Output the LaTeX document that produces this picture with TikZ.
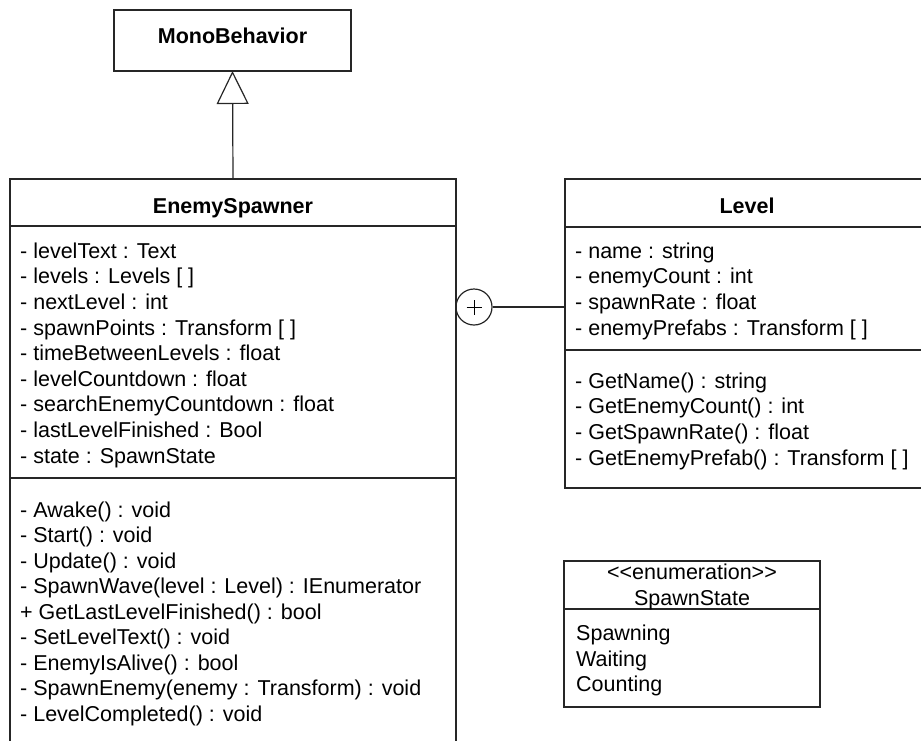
\documentclass[tikz,border=0pt]{standalone}
\usepackage{fontspec}
\setmainfont{Liberation Sans}
\usetikzlibrary{arrows.meta}

\tikzset{
  umlline/.style={line width=1.2pt, draw=black!85},
  classbox/.style={umlline, anchor=north west, inner sep=0pt, outer sep=0pt},
  member/.style={anchor=base west, inner sep=0pt, font=\fontsize{21.5}{25.6}\selectfont},
  classname/.style={anchor=base, inner sep=0pt, font=\fontsize{21.5}{25.6}\selectfont\bfseries},
  stereo/.style={anchor=base, inner sep=0pt, font=\fontsize{21.5}{25.6}\selectfont},
}

\begin{document}
\begin{tikzpicture}[x=1pt,y=-1pt]
\useasboundingbox (0,0) rectangle (921,740);
\clip (0,0) rectangle (921,740);

% MonoBehavior
\node[classbox, minimum width=237pt, minimum height=61pt] (mono) at (114,10) {};
\node[classname] (mononame) at (232.5,43) {MonoBehavior};

% EnemySpawner
\node[classbox, minimum width=446pt, minimum height=47pt] (spawner) at (10,179) {};
\node[classbox, minimum width=446pt, minimum height=252pt] (spawnerattr) at (10,226) {};
\node[classbox, minimum width=446pt, minimum height=300pt] (spawnerops) at (10,478) {};
\node[classname] (spawnername) at (233,213) {EnemySpawner};
\foreach \txt [count=\i from 0] in {{- levelText : Text}, {- levels : Levels [ ]}, {- nextLevel : int},
    {- spawnPoints : Transform [ ]}, {- timeBetweenLevels : float}, {- levelCountdown : float},
    {- searchEnemyCountdown : float}, {- lastLevelFinished : Bool}, {- state : SpawnState}}
  \node[member] (sa\i) at (20,258.3+25.6*\i) {\txt};
\foreach \txt [count=\i from 0] in {{- Awake() : void}, {- Start() : void}, {- Update() : void},
    {- SpawnWave(level : Level) : IEnumerator}, {+ GetLastLevelFinished() : bool},
    {- SetLevelText() : void}, {- EnemyIsAlive() : bool},
    {- SpawnEnemy(enemy : Transform) : void}, {- LevelCompleted() : void}}
  \node[member] (so\i) at (20,517+25.5*\i) {\txt};

% Level
\node[classbox, minimum width=364pt, minimum height=48pt] (level) at (565,179) {};
\node[classbox, minimum width=364pt, minimum height=123pt] (levelattr) at (565,227) {};
\node[classbox, minimum width=364pt, minimum height=138pt] (levelops) at (565,350) {};
\node[classname] (levelname) at (747,213) {Level};
\foreach \txt [count=\i from 0] in {{- name : string}, {- enemyCount : int},
    {- spawnRate : float}, {- enemyPrefabs : Transform [ ]}}
  \node[member] (la\i) at (575,258+25.7*\i) {\txt};
\foreach \txt [count=\i from 0] in {{- GetName() : string}, {- GetEnemyCount() : int},
    {- GetSpawnRate() : float}, {- GetEnemyPrefab() : Transform [ ]}}
  \node[member] (lo\i) at (575,388+25.7*\i) {\txt};

% SpawnState
\node[classbox, minimum width=256pt, minimum height=48pt] (enum) at (564,561) {};
\node[classbox, minimum width=256pt, minimum height=98pt] (enumvals) at (564,609) {};
\node[stereo] (enumstereo) at (692,579) {{<}{<}enumeration{>}{>}};
\node[stereo] (enumname) at (692,605) {SpawnState};
\foreach \txt [count=\i from 0] in {Spawning, Waiting, Counting}
  \node[member] (ev\i) at (576,640.7+25.5*\i) {\txt};

% connectors
\draw[umlline, -{Triangle[open, length=33pt, width=32pt]}] (spawner.north) -- (mono.south);
\node[circle, umlline, minimum size=36pt, inner sep=0pt] (nest) at (474,307) {};
\draw[line width=1pt] ([xshift=-7.5pt]nest.center) -- ([xshift=7.5pt]nest.center);
\draw[line width=1pt] ([yshift=-7.5pt]nest.center) -- ([yshift=7.5pt]nest.center);
\draw[umlline] (nest.east) -- (nest.east -| levelattr.west);
\end{tikzpicture}
\end{document}
